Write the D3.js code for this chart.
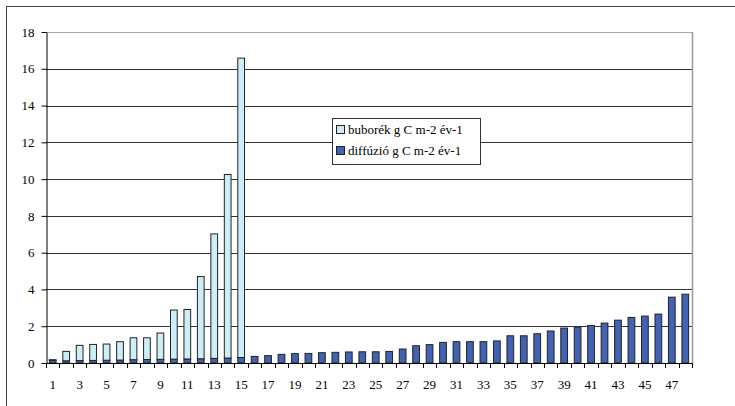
<!DOCTYPE html>
<html>
<head>
<meta charset="utf-8">
<script src="https://cdn.jsdelivr.net/npm/d3@7"></script>
<style>
  html, body { margin: 0; padding: 0; background: #fff; }
  svg { display: block; }
</style>
</head>
<body>
<svg id="chart" width="735" height="406"></svg>
<script>
const FONT = "'Liberation Serif', 'Times New Roman', Tinos, 'DejaVu Serif', serif";

// Sample numbers 1..48
const categories = d3.range(1, 49).map(String);

// Diffusion flux (g C m-2 yr-1)
const diffusion = [
  0.14, 0.12, 0.13, 0.14, 0.15, 0.16, 0.18, 0.19, 0.20, 0.21,
  0.22, 0.23, 0.25, 0.27, 0.30, 0.36, 0.40, 0.47, 0.51, 0.52,
  0.56, 0.58, 0.60, 0.61, 0.61, 0.63, 0.76, 0.94, 1.00, 1.12,
  1.16, 1.16, 1.16, 1.20, 1.48, 1.48, 1.59, 1.74, 1.90, 1.95,
  2.04, 2.17, 2.33, 2.48, 2.55, 2.66, 3.58, 3.74
];

// Bubble (ebullition) flux (g C m-2 yr-1), only measured at the first 15 sites
const bubble = [
  0.04, 0.51, 0.83, 0.87, 0.88, 1.00, 1.19, 1.18, 1.43, 2.67,
  2.69, 4.47, 6.77, 9.98, 16.28
];

const yTicks = [0, 2, 4, 6, 8, 10, 12, 14, 16, 18];
const xTickLabels = categories.filter((d, i) => i % 2 === 0);

const seriesNames = ["buborék g C m-2 év-1", "diffúzió g C m-2 év-1"];
const colors = { bubble: "#cdeef7", diffusion: "#4163b2" };

const rows = categories.map((c, i) => ({
  cat: c,
  diffusion: diffusion[i],
  bubble: i < bubble.length ? bubble[i] : 0
}));

const svg = d3.select("#chart");

// outer frame
svg.append("rect")
  .attr("x", 6.5).attr("y", 6.5)
  .attr("width", 740).attr("height", 410)
  .attr("fill", "none").attr("stroke", "#444").attr("stroke-width", 1);

const plot = { left: 46, right: 692, top: 32, bottom: 363 };

const x = d3.scaleBand()
  .domain(categories)
  .range([plot.left, plot.right])
  .paddingInner(0.5).paddingOuter(0.25);

const y = d3.scaleLinear()
  .domain([0, 18])
  .range([plot.bottom, plot.top]);

const g = svg.append("g");

// gridlines
g.selectAll(".grid")
  .data(yTicks.filter(t => t > 0))
  .join("line")
  .attr("x1", plot.left).attr("x2", plot.right)
  .attr("y1", d => Math.round(y(d)) + 0.5).attr("y2", d => Math.round(y(d)) + 0.5)
  .attr("stroke", d => d === 18 ? "#aaa" : "#333").attr("stroke-width", 1);

// right edge of plot area
g.append("line")
  .attr("x1", plot.right + 0.5).attr("x2", plot.right + 0.5)
  .attr("y1", plot.top).attr("y2", plot.bottom)
  .attr("stroke", "#999").attr("stroke-width", 1.5);

// stacked bars
const stack = d3.stack().keys(["diffusion", "bubble"]);
const layers = stack(rows);

g.selectAll(".layer")
  .data(layers)
  .join("g")
  .attr("fill", d => colors[d.key])
  .selectAll("rect")
  .data(d => d.filter(s => s[1] - s[0] > 0))
  .join("rect")
  .attr("x", d => x(d.data.cat))
  .attr("width", x.bandwidth())
  .attr("y", d => y(d[1]))
  .attr("height", d => y(d[0]) - y(d[1]))
  .attr("stroke", "#222").attr("stroke-width", 1);

// y axis
const yAxis = d3.axisLeft(y).tickValues(yTicks).tickSize(5).tickSizeOuter(0).tickPadding(7);
const ya = svg.append("g")
  .attr("transform", `translate(${plot.left + 0.5},0)`)
  .call(yAxis)
  .attr("font-family", FONT).attr("font-size", 13);
ya.select(".domain").attr("stroke", "#000");
ya.selectAll(".tick line").attr("stroke", "#000");
ya.selectAll("text").attr("fill", "#000");

// x axis: ticks on category boundaries, labels on odd categories
const bounds = d3.range(0, categories.length + 1).map(i => plot.left + i * (plot.right - plot.left) / categories.length);
const xa = svg.append("g").attr("font-family", FONT).attr("font-size", 13);
xa.append("line")
  .attr("x1", plot.left).attr("x2", plot.right)
  .attr("y1", plot.bottom + 0.5).attr("y2", plot.bottom + 0.5)
  .attr("stroke", "#000");
xa.selectAll(".xt")
  .data(bounds)
  .join("line")
  .attr("x1", d => Math.round(d) + 0.5).attr("x2", d => Math.round(d) + 0.5)
  .attr("y1", plot.bottom).attr("y2", plot.bottom + 5)
  .attr("stroke", "#000");
xa.selectAll(".xl")
  .data(xTickLabels)
  .join("text")
  .attr("x", d => x(d) + x.bandwidth() / 2)
  .attr("y", 389)
  .attr("text-anchor", "middle")
  .text(d => d);

// legend
const legend = svg.append("g").attr("transform", "translate(332,118)")
  .attr("font-family", FONT).attr("font-size", 13);
legend.append("rect")
  .attr("x", 0.5).attr("y", 0.5).attr("width", 148).attr("height", 46)
  .attr("fill", "#fff").attr("stroke", "#333");
const items = [
  { name: seriesNames[0], color: colors.bubble },
  { name: seriesNames[1], color: colors.diffusion }
];
const li = legend.selectAll(".li").data(items).join("g")
  .attr("transform", (d, i) => `translate(0,${i * 21})`);
li.append("rect")
  .attr("x", 4.5).attr("y", 7.5).attr("width", 8).attr("height", 8)
  .attr("fill", d => d.color).attr("stroke", "#222");
li.append("text")
  .attr("x", 16).attr("y", 16)
  .text(d => d.name);
</script>
</body>
</html>
